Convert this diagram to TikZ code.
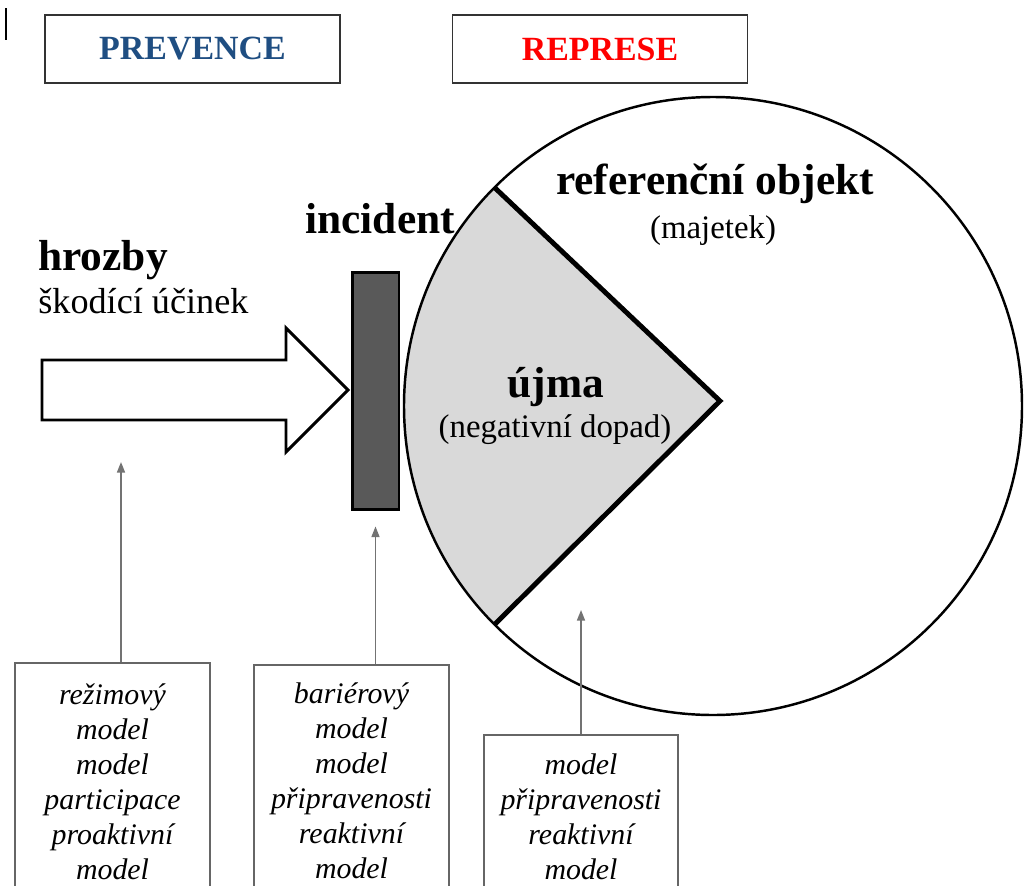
\documentclass[tikz,border=0pt]{standalone}
\usepackage{fontspec}
\setmainfont{Liberation Serif}
\usepackage{tikz}
\usetikzlibrary{positioning,arrows.meta,calc}
\definecolor{prevblue}{RGB}{31,78,130}
\definecolor{harmgray}{RGB}{217,217,217}
\definecolor{bargray}{RGB}{89,89,89}
\newcommand{\hitarrow}{-{Triangle[length=6pt,width=4.5pt]}}

\begin{document}
\begin{tikzpicture}[x=0.02cm,y=0.02cm,
    headbox/.style={draw=black!80,line width=1.1pt,minimum width=5.9cm,minimum height=1.36cm,inner sep=0pt,font=\fontsize{19.3}{22}\selectfont\bfseries},
    modelbox/.style={draw=black!60,line width=1pt,minimum width=3.9cm,inner sep=0pt,align=center,font=\fontsize{17}{19.9}\selectfont\itshape},
    biglabel/.style={inner sep=0pt,font=\fontsize{24.7}{28}\selectfont\bfseries},
    smalllabel/.style={inner sep=0pt,font=\fontsize{18.7}{22}\selectfont},
    conn/.style={draw=black!55,line width=0.9pt}]
            \clip (0,0) rectangle (1025,-886);
            \fill[white] (0,0) rectangle (1025,-886);
            \coordinate (ctr) at (713,-406);
            \coordinate (apex) at (720,-401);
            \coordinate (hit1) at (121,-462);
            \coordinate (hit3) at (581,-610);
            \draw[line width=1.2pt] (6,-8) -- (6,-40);
            \node[headbox,text=prevblue] (prev) at (192.5,-49) {PREVENCE};
            \node[headbox,text=red] (repr) at (600,-49) {REPRESE};
            \fill[harmgray] (apex) -- ($(ctr)+(135:309)$) arc[start angle=135,end angle=225,radius=309] -- cycle;
            \draw[line width=1.4pt] (ctr) circle[radius=309];
            \draw[line width=2.8pt,line join=miter] ($(ctr)+(135:309)$) -- (apex) -- ($(ctr)+(225:309)$);
            \draw[line width=1.7pt,fill=white,line join=miter] (42,-360) -- (286,-360) -- (286,-328) -- (348,-390) -- (286,-452) -- (286,-420) -- (42,-420) -- cycle;
            \node[draw=black,fill=bargray,line width=1.7pt,minimum width=0.94cm,minimum height=4.76cm,inner sep=0pt] (bar) at (375.5,-391) {};
            \node[biglabel,anchor=base west] (hrozby) at (38,-270) {hrozby};
            \node[inner sep=0pt,font=\fontsize{20.6}{24}\selectfont,anchor=base west] (effect) at (38,-313) {škodící účinek};
            \node[biglabel,anchor=base west] (incident) at (305,-233) {incident};
            \node[biglabel,anchor=base] (refobj) at (715,-194) {referenční objekt};
            \node[smalllabel,anchor=base] (asset) at (713,-238) {(majetek)};
            \node[biglabel,anchor=base] (harm) at (556,-397) {újma};
            \node[smalllabel,anchor=base] (impact) at (555,-437) {(negativní dopad)};
            \node[modelbox,minimum height=4.76cm,anchor=north] (regime) at (112.5,-662) {režimový\\model\\model\\participace\\proaktivní\\model};
            \node[modelbox,minimum height=4.64cm,anchor=north] (barrier) at (351.5,-664) {bariérový\\model\\model\\připravenosti\\reaktivní\\model};
            \node[modelbox,minimum width=3.88cm,minimum height=3.28cm,anchor=north] (ready) at (581,-734) {model\\připravenosti\\reaktivní\\model};
            \draw[conn,\hitarrow] (regime.north -| hit1) -- (hit1);
            \draw[conn,\hitarrow] (barrier.north -| bar.south) -- ([yshift=-0.3cm]bar.south);
            \draw[conn,\hitarrow] (ready.north) -- (hit3);
        \end{tikzpicture}
\end{document}
